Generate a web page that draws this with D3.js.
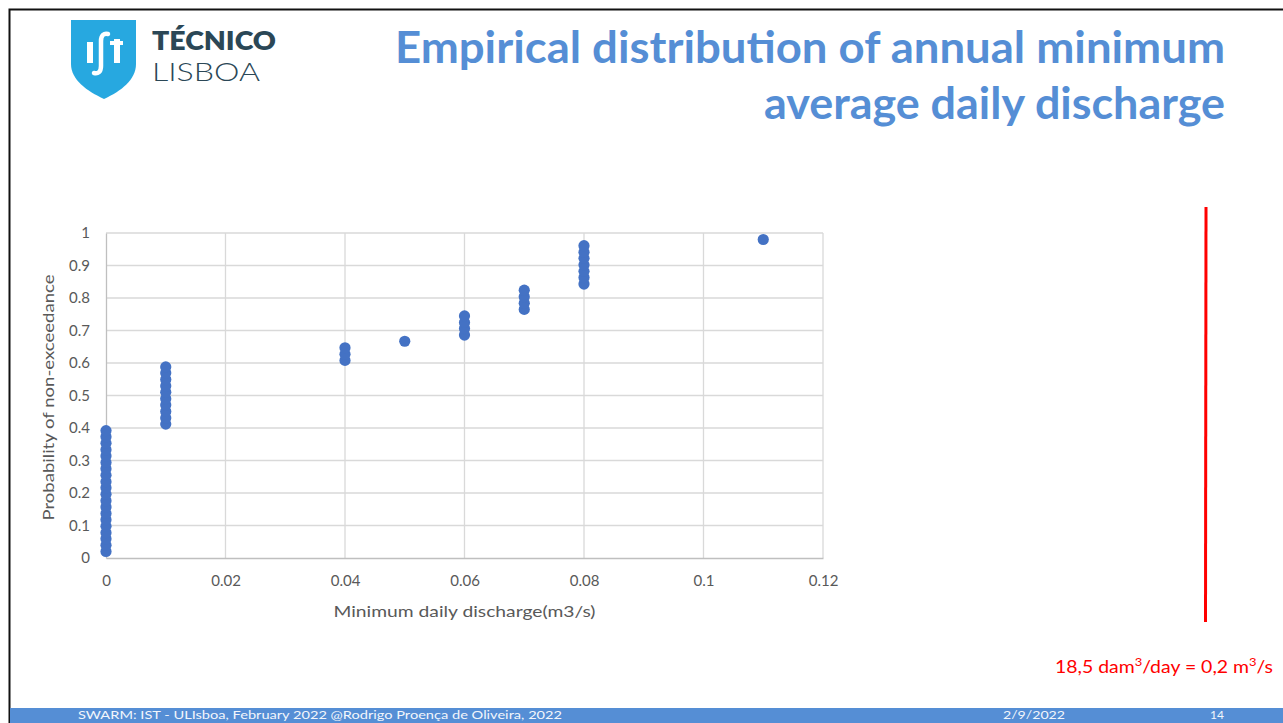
<!DOCTYPE html>
<html>
<head>
<meta charset="utf-8">
<script src="https://cdn.jsdelivr.net/npm/d3@7"></script>
<style>
  html, body { margin: 0; padding: 0; background: #fff; }
  svg { display: block; }
</style>
</head>
<body>
<svg id="slide" width="1283" height="723"></svg>
<script>
// Annual minimum average daily discharge (m3/s), sorted ascending
const discharge = [
  0, 0, 0, 0, 0, 0, 0, 0, 0, 0,
  0, 0, 0, 0, 0, 0, 0, 0, 0, 0,
  0.01, 0.01, 0.01, 0.01, 0.01, 0.01, 0.01, 0.01, 0.01, 0.01,
  0.04, 0.04, 0.04,
  0.05,
  0.06, 0.06, 0.06, 0.06,
  0.07, 0.07, 0.07, 0.07,
  0.08, 0.08, 0.08, 0.08, 0.08, 0.08, 0.08,
  0.11
];
// Empirical probability of non-exceedance for each sorted value
const probability = [
  0.020, 0.039, 0.059, 0.078, 0.098, 0.118, 0.137, 0.157, 0.176, 0.196,
  0.216, 0.235, 0.255, 0.275, 0.294, 0.314, 0.333, 0.353, 0.373, 0.392,
  0.412, 0.431, 0.451, 0.471, 0.490, 0.510, 0.529, 0.549, 0.569, 0.588,
  0.608, 0.627, 0.647,
  0.667,
  0.686, 0.706, 0.725, 0.745,
  0.765, 0.784, 0.804, 0.824,
  0.843, 0.863, 0.882, 0.902, 0.922, 0.941, 0.961,
  0.980
];
const xTicks = [0, 0.02, 0.04, 0.06, 0.08, 0.1, 0.12];
const yTicks = [0, 0.1, 0.2, 0.3, 0.4, 0.5, 0.6, 0.7, 0.8, 0.9, 1];

const svg = d3.select("#slide");
const FONT = "Lato, 'Open Sans', sans-serif";

// Slide frame
svg.append("path")
  .attr("d", "M9.5,723 V9.5 H1283")
  .attr("fill", "none").attr("stroke", "#111").attr("stroke-width", 2);

// Footer band
svg.append("rect").attr("x", 10).attr("y", 708).attr("width", 1273).attr("height", 15)
  .attr("fill", "#558ED5");
const foot = svg.append("g").attr("fill", "#f2f6fc").attr("font-family", FONT).attr("font-size", 12);
foot.append("text").attr("x", 78).attr("y", 719)
  .attr("textLength", 484).attr("lengthAdjust", "spacingAndGlyphs")
  .text("SWARM: IST - ULIsboa, February 2022  @Rodrigo Proença de Oliveira, 2022");
foot.append("text").attr("x", 1003).attr("y", 719)
  .attr("textLength", 62).attr("lengthAdjust", "spacingAndGlyphs").text("2/9/2022");
foot.append("text").attr("x", 1210).attr("y", 719).text("14");

// Logo: shield with monogram
const logo = svg.append("g");
logo.append("path")
  .attr("d", "M71,20 H136 V64 C136,80 121,91 104,99 C87,91 71,80 71,64 Z")
  .attr("fill", "#27A8E0");
logo.append("rect").attr("x", 87).attr("y", 42).attr("width", 6).attr("height", 21).attr("fill", "#fff");
logo.append("path")
  .attr("d", "M108,34 C104,33 101,35 101,41 L101,66 C101,72 98,74 94,73")
  .attr("fill", "none").attr("stroke", "#fff").attr("stroke-width", 4.5).attr("stroke-linecap", "round");
logo.append("rect").attr("x", 114).attr("y", 39).attr("width", 6).attr("height", 24).attr("fill", "#fff");
logo.append("rect").attr("x", 110).attr("y", 41).attr("width", 13).attr("height", 4).attr("fill", "#fff");

// Wordmark
logo.append("text").attr("x", 152).attr("y", 49.5)
  .attr("font-family", FONT).attr("font-size", 26).attr("fill", "#2B4756")
  .attr("font-weight", 800).attr("textLength", 124).attr("lengthAdjust", "spacingAndGlyphs")
  .text("TÉCNICO");
logo.append("text").attr("x", 152).attr("y", 81)
  .attr("font-family", FONT).attr("font-size", 26).attr("fill", "#2B4756")
  .attr("font-weight", 300).attr("textLength", 108).attr("lengthAdjust", "spacingAndGlyphs")
  .text("LISBOA");

// Title
const title = svg.append("g").attr("font-family", FONT).attr("font-weight", 700)
  .attr("font-size", 44).attr("fill", "#558ED5").attr("text-anchor", "end");
title.append("text").attr("x", 1225).attr("y", 63)
  .attr("textLength", 830).attr("lengthAdjust", "spacingAndGlyphs")
  .text("Empirical distribution of annual minimum");
title.append("text").attr("x", 1225).attr("y", 119)
  .attr("textLength", 461).attr("lengthAdjust", "spacingAndGlyphs")
  .text("average daily discharge");

// Scatter chart
const plot = { left: 106, right: 823, top: 233, bottom: 558 };
const x = d3.scaleLinear().domain([0, 0.12]).range([plot.left, plot.right]);
const y = d3.scaleLinear().domain([0, 1]).range([plot.bottom, plot.top]);

const chart = svg.append("g");

// Gridlines
chart.append("g").selectAll("line").data(yTicks.slice(1)).join("line")
  .attr("x1", plot.left).attr("x2", plot.right)
  .attr("y1", d => y(d)).attr("y2", d => y(d))
  .attr("stroke", "#D9D9D9").attr("stroke-width", 1.3);
chart.append("g").selectAll("line").data(xTicks.slice(1)).join("line")
  .attr("x1", d => x(d)).attr("x2", d => x(d))
  .attr("y1", plot.top).attr("y2", plot.bottom)
  .attr("stroke", "#D9D9D9").attr("stroke-width", 1.3);

// Axes
const xAxis = chart.append("g").attr("transform", `translate(0,${plot.bottom})`)
  .call(d3.axisBottom(x).tickValues(xTicks).tickSize(0).tickPadding(17).tickFormat(d3.format("~g")));
const yAxis = chart.append("g").attr("transform", `translate(${plot.left},0)`)
  .call(d3.axisLeft(y).tickValues(yTicks).tickSize(0).tickPadding(16).tickFormat(d3.format("~g")));
[xAxis, yAxis].forEach(a => {
  a.select(".domain").attr("stroke", "#BFBFBF").attr("stroke-width", 1.3);
  a.selectAll("text").attr("font-family", FONT).attr("font-size", 15).attr("fill", "#595959");
});

// Axis titles
chart.append("text")
  .attr("x", (plot.left + plot.right) / 2).attr("y", 617)
  .attr("text-anchor", "middle").attr("font-family", FONT).attr("font-size", 16).attr("fill", "#595959")
  .attr("textLength", 262).attr("lengthAdjust", "spacingAndGlyphs")
  .text("Minimum daily discharge(m3/s)");
chart.append("text")
  .attr("transform", `translate(54,${(plot.top + plot.bottom) / 2 + 2}) rotate(-90)`)
  .attr("text-anchor", "middle").attr("font-family", FONT).attr("font-size", 16).attr("fill", "#595959")
  .attr("textLength", 246).attr("lengthAdjust", "spacingAndGlyphs")
  .text("Probability of non-exceedance");

// Points
chart.append("g").selectAll("circle").data(discharge).join("circle")
  .attr("cx", d => x(d))
  .attr("cy", (d, i) => y(probability[i]))
  .attr("r", 5.6)
  .attr("fill", "#4472C4");

// Reference line and conversion note
svg.append("line")
  .attr("x1", 1206).attr("x2", 1205.5).attr("y1", 207).attr("y2", 622)
  .attr("stroke", "#FF0000").attr("stroke-width", 3);
const note = svg.append("text").attr("x", 1055).attr("y", 673)
  .attr("font-family", FONT).attr("font-size", 18).attr("fill", "#FF0000")
  .attr("textLength", 218).attr("lengthAdjust", "spacingAndGlyphs");
note.append("tspan").text("18,5 dam");
note.append("tspan").attr("font-size", 12).attr("dy", -7).text("3");
note.append("tspan").attr("dy", 7).text("/day = 0,2 m");
note.append("tspan").attr("font-size", 12).attr("dy", -7).text("3");
note.append("tspan").attr("dy", 7).text("/s");
</script>
</body>
</html>
